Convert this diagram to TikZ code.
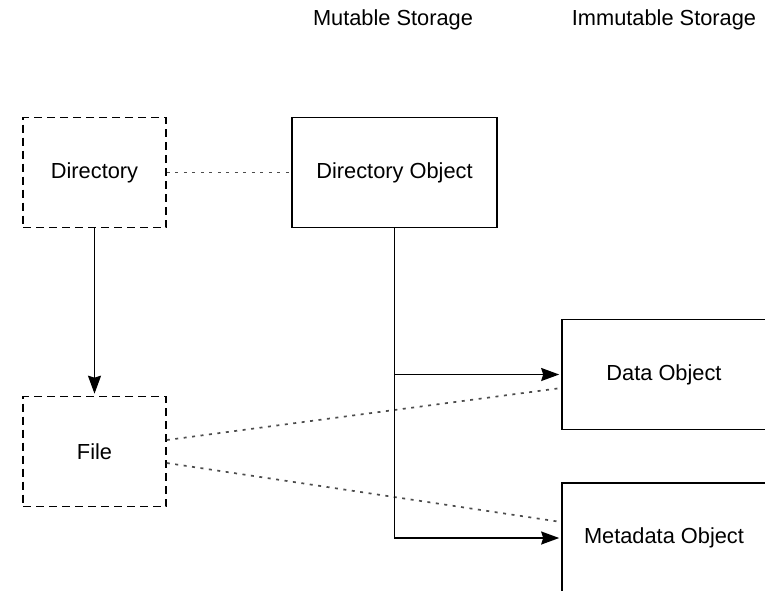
\documentclass[tikz,border=0pt]{standalone}
\usepackage{fontspec}
\setmainfont{Liberation Sans}
\usetikzlibrary{arrows.meta}
\begin{document}
\begin{tikzpicture}[x=1pt,y=-1pt,
  every node/.style={font=\fontsize{21.8}{26}\selectfont, inner sep=0pt},
  box/.style={draw, line width=1.6pt, rectangle, minimum width=#1, minimum height=110pt},
  box/.default=205pt,
  dbox/.style={box=143pt, dash pattern=on 8pt off 5pt},
  link/.style={line width=1.7pt, dash pattern=on 3pt off 5.5pt, black!70},
  flow/.style={line width=1.7pt, shorten >=2pt, -{Stealth[length=18pt,width=13pt,inset=2pt]}}]
  \useasboundingbox (0,0) rectangle (765,590);
  \clip (0,0) rectangle (765,590);

  % column headings
  \node (mut) at (393,20) {Mutable Storage};
  \node (imm) at (664,20) {Immutable Storage};

  % namespace entries (dashed)
  \node[dbox] (dir)  at (94.5,172.5) {Directory};
  \node[dbox] (file) at (94.5,451.5) {File};

  % stored objects
  \node[box] (dobj) at (394.5,172.5) {Directory Object};
  \node[box=204pt] (data) at (664,374.5) {Data Object};
  \node[box=204pt] (meta) at (664,538) {Metadata Object};

  % links between entries and objects
  \draw[link] (dir.east) -- (dobj.west);
  \draw[link] ([yshift=11.5pt]file.east) -- ([yshift=-13.5pt]data.west);
  \draw[link] ([yshift=-11.5pt]file.east) -- ([yshift=16pt]meta.west);

  % references
  \draw[flow] (dir.south) -- (file.north);
  \draw[flow] (dobj.south) |- (meta.west);
  \draw[flow] (dobj.south |- data.west) -- (data.west);
\end{tikzpicture}
\end{document}
